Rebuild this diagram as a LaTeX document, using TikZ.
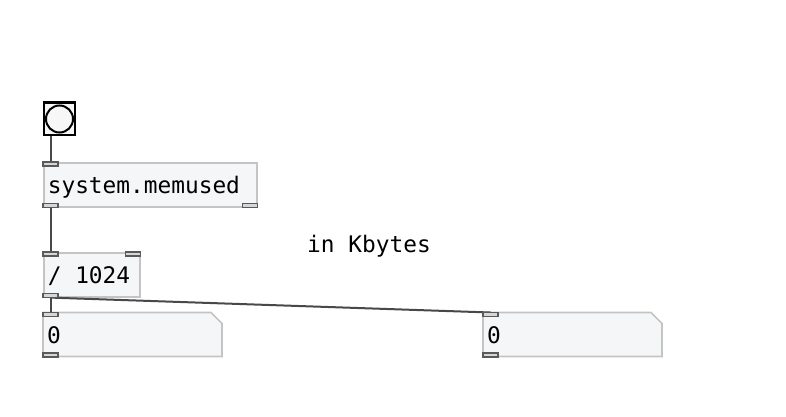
\documentclass[tikz,border=0pt]{standalone}
\usepackage{fontspec}
\newfontfamily\pdfont{DejaVu Sans Mono}
\definecolor{boxfill}{HTML}{F5F6F8}
\definecolor{boxline}{HTML}{C4C4C4}
\definecolor{cord}{HTML}{484848}
\definecolor{portfill}{HTML}{D6D6D6}
\definecolor{portline}{HTML}{5A5A5A}
\newcommand{\pdsetfont}{\pdfont\fontsize{22.8pt}{24pt}\selectfont}
\newcommand{\pdsp}{\hspace*{0.602em}}
\begin{document}
\begin{tikzpicture}[x=1pt,y=-1pt,
  pdtext/.style={font=\pdsetfont},
  objbox/.style={pdtext,draw=boxline,fill=boxfill,line width=1.6pt,anchor=north west,
    inner xsep=4pt,inner ysep=0pt,text height=31pt,text depth=13pt,align=left},
  numbox/.style={pdtext,anchor=north west,inner xsep=4pt,inner ysep=0pt,
    text height=31pt,text depth=13pt,align=left},
  port/.style={draw=portline,fill=portfill,line width=1.3pt},
  cordline/.style={draw=cord,line width=2pt},
  nboxline/.style={draw=boxline,fill=boxfill,line width=1.6pt},
  comment/.style={pdtext,anchor=base west,inner sep=0pt}
]
\useasboundingbox (0,0) rectangle (786,417);
\fill[white] (0,0) rectangle (786,417);

% bang
\node[draw=black,fill=white!97!black,line width=2pt,minimum width=31pt,minimum height=31pt,
  inner sep=0pt,anchor=north west] (bang) at (43,102.5) {};
\draw[black,line width=3pt] (bang.north west) -- (bang.north east);
\node[draw=black,line width=2pt,circle,minimum size=27pt,inner sep=0pt] (bangc) at (bang.center) {};

% objects
\node[objbox,text width=205pt,minimum height=44pt] (sys) at (43,162) {system.memused};
\node[objbox,text width=88pt,minimum height=44pt] (div) at (43,252) {/\pdsp 1024};

% number boxes (outline first, text on top)
\coordinate (n1nw) at (43,312.5);
\coordinate (n2nw) at (483,312.5);
\foreach \c in {n1nw,n2nw}{
  \path[nboxline] (\c) -- ++(168,0) -- ++(11,11) -- ++(0,33) -- ++(-179,0) -- cycle;
}
\node[numbox,text width=171pt,minimum height=44pt] (num1) at (n1nw) {0};
\node[numbox,text width=171pt,minimum height=44pt] (num2) at (n2nw) {0};

% comment
\node[comment] (cmt) at (307,252) {in\pdsp Kbytes};

% cords
\coordinate (bangout) at ([xshift=7.5pt]bang.south west);
\coordinate (sysin) at ([xshift=7.5pt]sys.north west);
\coordinate (sysout) at ([xshift=7.5pt]sys.south west);
\coordinate (divin) at ([xshift=7.5pt]div.north west);
\coordinate (divout) at ([xshift=7.5pt]div.south west);
\coordinate (num1in) at ([xshift=7.5pt]num1.north west);
\coordinate (num2in) at ([xshift=7.5pt]num2.north west);
\draw[cordline] (bangout) -- (sysin);
\draw[cordline] (sysout) -- (divin);
\draw[cordline] (divout) -- (num1in);
\draw[cordline] (divout) -- (num2in);

% ports
\draw[port] (sys.north west) rectangle ++(15,4);
\draw[port] (sys.south west) rectangle ++(15,-4);
\draw[port] (sys.south east) rectangle ++(-15,-4);
\draw[port] (div.north west) rectangle ++(15,4);
\draw[port] (div.north east) rectangle ++(-15,4);
\draw[port] (div.south west) rectangle ++(15,-4);
\draw[port] (num1.north west) rectangle ++(15,4);
\draw[port] (num1.south west) rectangle ++(15,-4);
\draw[port] (num2.north west) rectangle ++(15,4);
\draw[port] (num2.south west) rectangle ++(15,-4);
\end{tikzpicture}
\end{document}
